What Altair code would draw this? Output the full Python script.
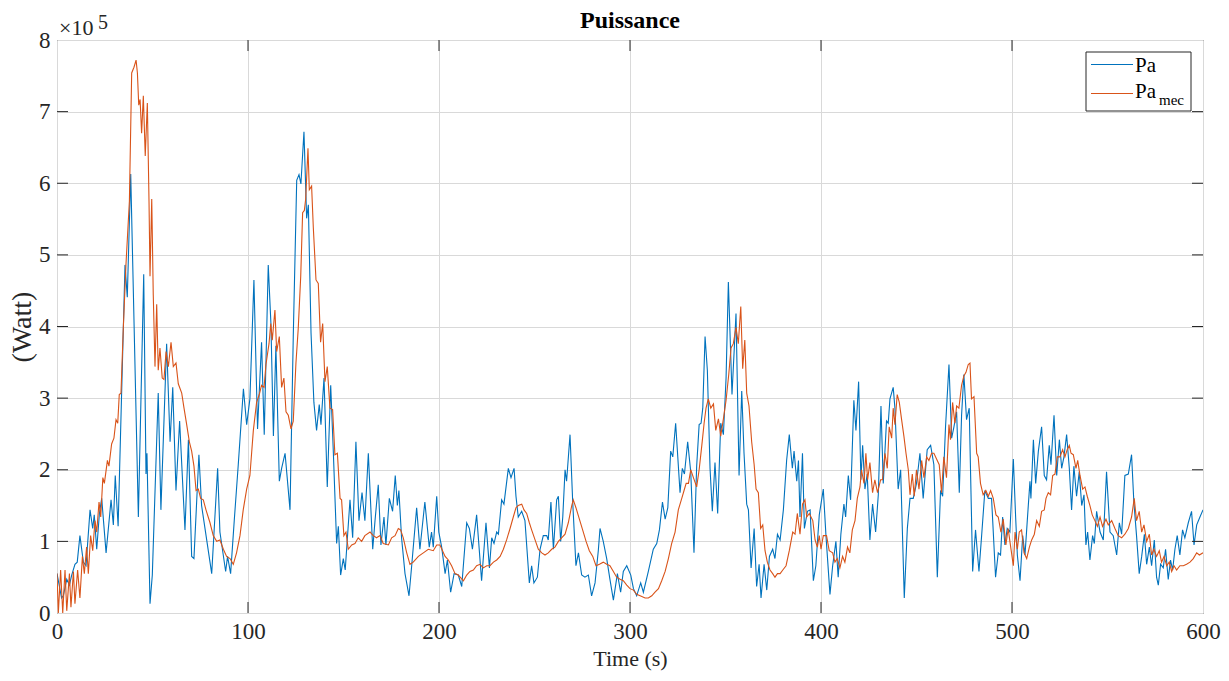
import altair as alt
import pandas as pd

# ---------------- data (values in units of 1e5 W) ----------------
# Pa (blue)
PA_T_A = [0, 2.4, 3.3, 5.1, 6.5, 7.7, 9.4, 10.6, 12.0, 13.8, 15.2, 17.3, 18.7, 19.5, 20.8, 22.2, 23.4, 25.7, 28.3, 29.5, 30.5, 32.0, 35.6, 36.8, 38.6, 42.6, 45.4, 46.6, 47.1, 48.7, 49.9, 53.0, 54.4, 57.4, 59.2, 60.6, 62.3, 64.2, 67.0, 68.8, 70.5, 71.7, 74.3, 75.7, 81.0, 84.1, 85.3, 88.3, 89.3, 90.9, 92.8, 94.9, 97.6, 99.3, 101.0]
PA_V_A = [0.55, 0.21, 0.24, 0.47, 0.39, 0.53, 0.68, 0.71, 1.08, 0.71, 0.66, 1.44, 1.18, 1.37, 0.89, 1.39, 1.60, 0.84, 1.58, 1.23, 1.92, 1.21, 4.86, 4.41, 6.13, 1.34, 4.73, 1.94, 2.23, 0.13, 0.53, 3.07, 1.44, 3.76, 2.39, 3.15, 1.71, 2.68, 1.16, 2.42, 0.79, 0.76, 2.21, 1.50, 0.55, 2.02, 1.13, 0.58, 0.79, 0.55, 1.29, 2.07, 3.13, 2.63, 2.99]

PA_T_B = [103.1, 105.0, 107.1, 108.5, 110.6, 112.0, 113.3, 114.6, 116.4, 117.6, 119.4, 122.0, 123.7, 125.5, 126.7, 127.7, 129.3, 130.7, 131.6, 133.0, 134.5, 135.9, 137.3, 138.2, 139.8, 141.5, 143.3, 144.7, 146.4, 147.3, 148.5, 149.9, 150.9, 153.4, 154.8, 156.5, 158.1, 159.7, 161.2, 163.0, 165.3, 166.5, 168.2, 169.6, 171.2, 172.2, 174.0, 175.7, 177.1, 178.2, 179.0, 180.4, 182.2, 184.3, 185.7, 188.3, 190.0, 192.6, 194.9, 196.1, 197.0, 198.8, 199.9]
PA_V_B = [4.65, 2.57, 3.78, 2.49, 4.86, 4.04, 2.47, 3.73, 1.84, 2.02, 2.23, 1.44, 3.86, 6.04, 6.12, 5.99, 6.72, 5.51, 5.70, 3.91, 2.94, 2.55, 2.91, 2.63, 3.28, 1.76, 3.18, 2.23, 0.97, 1.21, 0.53, 0.76, 0.60, 1.58, 1.05, 2.39, 1.29, 1.68, 1.29, 2.23, 0.89, 1.29, 1.79, 0.95, 1.34, 0.95, 1.60, 1.42, 1.92, 1.50, 1.71, 1.05, 0.55, 0.24, 0.66, 1.47, 0.89, 1.55, 0.92, 1.13, 0.92, 1.63, 1.13]

PA_T_C = [201.4, 203.2, 204.4, 206.1, 207.9, 210.1, 211.9, 214.5, 215.9, 217.5, 219.7, 222.3, 224.6, 226.4, 227.6, 228.8, 230.2, 231.1, 232.8, 234.0, 236.3, 237.7, 239.3, 240.3, 241.5, 243.3, 245.0, 247.3, 248.5, 249.7, 251.5, 252.9, 254.6, 256.4, 257.2, 258.6, 259.9, 261.6, 262.5, 263.7, 264.8, 266.0, 266.8, 268.6, 270.0, 271.7, 273.0, 274.7, 276.4, 278.2, 279.9, 281.7, 283.4, 284.3, 286.0, 287.8, 289.5, 291.3, 293.4, 295.1, 296.5, 298.3, 300.4]
PA_V_C = [0.92, 0.55, 0.74, 0.29, 0.55, 0.53, 0.37, 1.26, 1.18, 0.89, 1.37, 0.45, 1.26, 0.63, 1.05, 0.97, 1.13, 1.10, 1.58, 1.52, 2.02, 1.89, 2.02, 1.63, 1.34, 1.42, 1.29, 0.42, 0.66, 0.42, 0.50, 0.89, 1.08, 1.08, 1.02, 1.55, 0.89, 1.58, 1.63, 1.00, 1.34, 2.00, 1.84, 2.49, 1.55, 0.66, 0.84, 0.53, 0.50, 0.53, 0.24, 0.42, 0.87, 1.18, 1.00, 0.76, 0.47, 0.18, 0.55, 0.29, 0.58, 0.66, 0.53]

PA_T_D = [301.8, 303.5, 305.6, 307.0, 309.6, 312.2, 314.0, 315.4, 317.0, 318.4, 319.8, 321.3, 322.4, 323.9, 326.2, 327.4, 328.5, 330.2, 331.8, 333.5, 334.9, 336.2, 337.2, 338.1, 339.3, 340.5, 341.9, 343.1, 344.5, 345.9, 347.5, 348.9, 350.3, 351.5, 353.4, 355.5, 357.1, 358.5, 359.7, 361.1, 362.0, 363.4, 365.0, 366.3, 367.6, 368.6, 370.2, 371.6, 373.0, 374.7, 375.9, 377.2, 378.6, 380.3, 382.0, 383.4, 385.0, 385.9, 387.3, 388.2, 389.0, 390.3, 391.3, 392.9, 394.3, 396.0, 397.3, 399.1]
PA_V_D = [0.34, 0.24, 0.42, 0.29, 0.58, 0.89, 0.97, 1.16, 1.55, 1.31, 1.47, 2.26, 2.18, 2.65, 1.68, 2.02, 1.94, 2.39, 1.97, 0.84, 2.05, 2.63, 2.65, 2.86, 3.86, 3.39, 2.02, 1.42, 2.10, 1.39, 2.65, 2.49, 3.28, 4.62, 3.05, 4.18, 1.92, 3.10, 2.23, 1.52, 1.44, 0.63, 1.18, 0.37, 0.68, 0.21, 0.68, 0.32, 0.79, 0.89, 0.76, 1.10, 1.02, 1.44, 2.13, 2.49, 2.02, 2.26, 1.84, 2.13, 1.34, 2.23, 1.18, 1.42, 1.44, 0.45, 0.66, 1.37]

PA_T_E = [401.2, 402.6, 404.7, 406.1, 407.8, 409.0, 410.4, 412.0, 412.9, 414.3, 415.5, 417.2, 418.3, 419.7, 420.9, 421.8, 423.0, 424.2, 425.6, 427.0, 428.6, 430.0, 431.4, 432.6, 434.3, 435.2, 436.1, 437.8, 438.7, 440.4, 441.7, 443.6, 445.2, 446.6, 448.3, 450.0, 451.8, 453.5, 455.6, 457.4, 459.1, 460.9, 462.6, 463.7, 465.2, 467.0, 468.4, 469.6, 471.0, 472.4, 473.6, 474.8, 476.2, 477.6, 479.4, 480.9, 482.7, 484.1, 485.8, 487.6, 489.3, 491.4, 492.8, 494.0, 495.1, 496.3, 497.5, 498.9]
PA_V_E = [1.73, 1.08, 0.26, 0.66, 1.00, 0.50, 1.10, 1.52, 1.34, 1.92, 1.58, 2.97, 2.55, 3.23, 1.86, 2.34, 1.73, 1.94, 1.02, 1.52, 1.13, 1.65, 2.89, 1.81, 2.68, 2.65, 2.99, 3.15, 2.86, 1.73, 2.00, 0.21, 1.18, 1.60, 1.60, 1.81, 2.23, 1.60, 2.28, 2.34, 2.07, 0.50, 1.71, 1.63, 2.60, 3.47, 2.44, 2.60, 2.81, 1.68, 2.76, 3.33, 2.70, 2.86, 0.58, 1.16, 0.58, 1.08, 1.71, 1.60, 1.60, 0.50, 0.84, 0.81, 1.34, 0.95, 1.18, 1.13]

PA_T_F = [500.7, 501.9, 502.8, 504.2, 505.6, 506.8, 508.0, 509.4, 509.9, 511.2, 512.4, 513.8, 515.5, 516.9, 518.1, 519.5, 520.4, 522.0, 523.4, 524.8, 526.0, 527.2, 528.6, 530.0, 531.2, 532.4, 533.8, 535.2, 536.5, 537.7, 538.7, 539.6, 540.8, 542.2, 543.1, 544.3, 546.1, 547.8, 549.5, 551.3, 553.0, 554.8, 556.2, 557.4, 559.1, 560.9, 562.6, 563.8, 565.2, 566.6, 567.9, 569.3, 570.5, 571.9, 573.1, 574.5, 575.7, 576.6, 577.8, 579.2, 580.4, 581.8, 583.0, 584.1, 585.3, 586.5, 587.9, 589.3, 590.5, 592.3, 594.0, 595.3, 596.7, 598.4, 600.0]
PA_V_F = [2.15, 1.34, 0.81, 0.45, 1.08, 0.81, 1.29, 1.84, 1.60, 2.42, 1.81, 2.26, 2.60, 1.92, 1.86, 2.34, 2.07, 2.76, 1.92, 2.42, 2.02, 2.18, 2.49, 2.02, 1.44, 2.05, 1.63, 1.97, 1.50, 1.65, 0.95, 1.13, 0.74, 1.08, 0.97, 1.42, 1.13, 1.02, 1.97, 1.13, 1.08, 0.81, 1.26, 1.10, 1.92, 1.94, 2.21, 1.55, 1.08, 0.55, 0.79, 1.10, 0.68, 0.92, 0.66, 1.02, 0.50, 0.39, 0.68, 0.63, 0.89, 0.47, 0.74, 0.60, 0.89, 1.08, 0.81, 1.16, 1.05, 1.26, 1.42, 0.95, 1.23, 1.34, 1.44]

# Pa_mec (orange)
MEC_T_A = [0, 0.7, 1.9, 3.0, 4.2, 5.1, 6.5, 7.3, 8.6, 9.4, 10.8, 12.0, 13.3, 14.3, 15.5, 16.4, 17.6, 18.7, 19.9, 20.8, 22.0, 22.9, 24.0, 24.8, 26.4, 27.2, 28.6, 29.8, 30.9, 31.8, 32.6, 33.5, 34.7, 36.1, 37.9, 39.1, 40.3, 41.4, 42.1, 42.8, 43.5, 44.3, 45.2, 46.2, 47.3, 48.2, 48.7, 49.6, 50.4, 51.3, 52.2, 53.0, 53.9, 55.1, 56.0, 57.1, 58.3, 59.7, 60.9, 62.3, 63.5, 65.3, 66.5, 67.9, 69.3, 70.5, 71.7, 72.8, 74.0, 75.2, 76.6, 78.0, 80.1, 81.8, 83.6, 85.3, 87.1, 88.8, 90.6, 92.3, 94.0, 95.8, 97.5, 99.3, 101.0]
MEC_V_A = [0.55, 0.0, 0.60, 0.0, 0.60, 0.03, 0.55, 0.08, 0.58, 0.13, 0.60, 0.21, 0.79, 0.55, 0.92, 0.55, 1.08, 0.87, 1.29, 1.13, 1.55, 1.34, 1.89, 1.81, 2.13, 2.05, 2.36, 2.44, 2.70, 2.65, 3.05, 3.07, 3.97, 4.86, 5.75, 7.54, 7.62, 7.72, 7.54, 7.09, 7.17, 6.70, 7.22, 6.38, 7.12, 5.70, 4.70, 5.78, 4.44, 3.44, 4.31, 3.39, 3.70, 3.28, 3.26, 3.65, 3.44, 3.78, 3.44, 3.49, 3.20, 3.07, 2.86, 2.63, 2.39, 2.26, 2.05, 1.71, 1.73, 1.60, 1.58, 1.44, 1.26, 1.08, 1.00, 1.02, 0.89, 0.79, 0.76, 0.68, 0.84, 1.08, 1.44, 1.73, 1.92]

MEC_T_B = [102.8, 104.5, 105.9, 107.1, 108.4, 109.4, 111.0, 111.9, 112.7, 114.1, 115.0, 116.4, 117.6, 118.8, 119.9, 121.1, 122.5, 123.7, 125.1, 126.3, 127.6, 128.6, 129.5, 130.2, 131.4, 132.1, 133.3, 134.2, 135.6, 136.8, 138.0, 139.1, 140.3, 141.5, 142.9, 144.3, 145.5, 146.8, 148.2, 149.0, 150.2, 151.3, 152.5, 154.3, 156.0, 157.7, 159.5, 161.2, 163.9, 165.6, 167.3, 169.1, 170.8, 173.5, 175.2, 177.0, 178.7, 179.9, 181.3, 183.1, 184.8, 186.5, 189.2, 191.8, 194.4, 197.0, 198.8, 200.5]
MEC_V_B = [2.55, 2.94, 3.05, 3.18, 3.15, 3.47, 3.76, 4.04, 3.81, 4.23, 3.65, 3.86, 3.15, 3.28, 2.81, 2.76, 2.57, 2.68, 3.49, 3.97, 4.70, 5.59, 5.62, 5.78, 6.49, 5.91, 5.96, 5.38, 4.65, 4.60, 3.78, 4.04, 3.23, 3.44, 2.86, 2.84, 2.21, 2.23, 1.60, 1.58, 1.08, 1.13, 0.89, 0.95, 0.97, 1.05, 1.00, 1.08, 1.13, 1.08, 1.05, 1.08, 0.97, 0.95, 1.05, 1.08, 1.18, 1.16, 1.05, 0.84, 0.68, 0.71, 0.79, 0.84, 0.89, 0.87, 0.95, 0.95]

MEC_T_C = [203.2, 204.9, 206.6, 208.4, 210.1, 212.8, 214.5, 216.2, 218.0, 219.7, 221.5, 223.2, 225.0, 226.7, 228.5, 230.2, 232.0, 233.7, 235.4, 237.2, 238.9, 240.3, 241.5, 243.3, 244.5, 245.9, 247.3, 248.5, 250.3, 252.0, 253.8, 255.5, 257.2, 259.0, 260.7, 262.5, 264.2, 266.0, 267.7, 269.5, 270.3, 271.7, 273.5, 275.2, 277.0, 278.7, 280.5, 282.2, 284.0, 286.0, 287.8, 289.5, 291.3, 293.0, 294.8, 296.5, 298.3, 300.0]
MEC_V_C = [0.79, 0.74, 0.66, 0.55, 0.53, 0.45, 0.53, 0.58, 0.60, 0.66, 0.68, 0.63, 0.66, 0.66, 0.71, 0.74, 0.79, 0.89, 1.02, 1.18, 1.34, 1.47, 1.50, 1.52, 1.44, 1.39, 1.26, 1.16, 1.02, 0.89, 0.84, 0.81, 0.84, 0.89, 0.92, 1.00, 1.05, 1.10, 1.26, 1.50, 1.58, 1.47, 1.31, 1.16, 1.00, 0.87, 0.79, 0.66, 0.68, 0.71, 0.68, 0.66, 0.58, 0.50, 0.47, 0.45, 0.39, 0.34]

MEC_T_D = [301.8, 303.5, 305.3, 307.9, 309.6, 311.4, 313.1, 314.9, 316.6, 318.4, 320.1, 321.8, 323.6, 325.3, 327.1, 328.3, 329.4, 330.6, 331.8, 333.2, 334.9, 336.2, 337.6, 338.8, 339.8, 341.0, 342.3, 343.7, 344.9, 346.3, 347.5, 348.9, 350.3, 351.7, 352.9, 354.1, 355.5, 356.7, 358.0, 359.0, 360.1, 361.1, 362.3, 363.7, 365.0, 366.0, 367.2, 368.4, 369.5, 370.7, 371.9, 373.3, 374.7, 375.9, 377.2, 378.6, 380.0, 381.7, 383.4, 385.2, 386.4, 387.6, 389.0, 390.3, 391.6, 392.5, 393.9, 395.7, 396.9, 398.1, 399.1]
MEC_V_D = [0.32, 0.26, 0.24, 0.21, 0.21, 0.24, 0.29, 0.34, 0.45, 0.58, 0.76, 0.97, 1.13, 1.44, 1.60, 1.71, 1.81, 1.81, 2.00, 1.89, 1.76, 2.00, 2.34, 2.65, 2.86, 2.99, 2.86, 2.92, 2.55, 2.71, 2.47, 2.71, 2.97, 3.33, 3.70, 3.76, 3.99, 3.76, 4.28, 3.41, 3.81, 3.07, 2.89, 2.39, 2.07, 1.73, 1.68, 1.18, 1.23, 0.87, 0.71, 0.60, 0.55, 0.50, 0.55, 0.55, 0.60, 0.66, 0.87, 1.13, 1.10, 1.39, 1.10, 1.52, 1.58, 1.34, 1.39, 1.29, 1.02, 0.92, 1.08]

MEC_T_E = [400.0, 401.2, 402.9, 404.3, 406.1, 407.3, 408.5, 409.9, 411.3, 412.5, 413.9, 415.1, 416.4, 417.8, 419.0, 420.4, 421.2, 422.5, 423.5, 424.4, 425.6, 427.0, 428.2, 429.6, 431.2, 432.2, 433.5, 434.7, 435.7, 437.0, 437.8, 438.7, 439.9, 441.0, 442.2, 443.4, 444.5, 445.7, 446.6, 447.8, 448.8, 450.0, 451.3, 452.7, 453.9, 455.3, 456.5, 457.9, 459.1, 460.5, 461.9, 463.1, 464.3, 465.7, 467.0, 467.8, 468.9, 470.1, 471.0, 472.2, 473.6, 474.8, 475.9, 477.1, 478.0, 478.8, 480.1, 481.5, 482.3, 483.5, 484.9, 486.3, 487.6, 488.8, 490.2, 491.6, 492.8, 494.2, 495.4, 496.8, 498.0, 498.9]
MEC_V_E = [0.89, 1.08, 1.08, 0.87, 0.84, 0.71, 0.76, 0.63, 0.79, 0.71, 0.92, 0.84, 1.16, 1.29, 1.60, 1.76, 2.00, 1.81, 2.23, 1.86, 2.10, 1.68, 1.86, 1.68, 1.86, 1.86, 2.23, 2.02, 2.60, 2.44, 2.86, 2.63, 3.05, 2.94, 2.70, 2.47, 2.23, 2.00, 1.65, 1.94, 1.63, 2.00, 1.73, 2.13, 1.89, 2.18, 2.13, 2.23, 2.23, 2.15, 2.07, 1.68, 2.18, 1.89, 2.63, 2.42, 2.94, 2.65, 2.89, 2.86, 3.18, 3.31, 3.36, 3.47, 3.49, 2.99, 3.02, 2.23, 2.18, 1.81, 1.65, 1.71, 1.63, 1.71, 1.60, 1.37, 1.34, 1.13, 1.31, 0.95, 1.18, 1.00]

MEC_T_F = [500.7, 501.6, 502.8, 503.8, 505.0, 506.3, 507.7, 509.1, 510.3, 511.7, 512.9, 514.3, 515.5, 516.9, 517.8, 519.0, 520.2, 521.3, 522.5, 523.7, 525.1, 526.5, 527.7, 528.9, 530.0, 530.9, 532.1, 533.5, 534.4, 535.6, 537.0, 538.2, 539.4, 540.8, 542.0, 543.4, 544.7, 546.1, 547.4, 549.2, 550.4, 552.2, 553.9, 555.6, 557.4, 559.1, 560.9, 562.6, 564.0, 565.2, 566.6, 567.9, 569.1, 570.5, 571.9, 573.1, 574.3, 575.7, 577.1, 578.3, 579.6, 581.0, 582.3, 583.6, 584.8, 586.2, 587.9, 589.7, 591.4, 593.2, 594.9, 596.7, 598.1, 600.0]
MEC_V_F = [0.66, 1.13, 0.89, 1.13, 1.16, 0.84, 0.76, 0.92, 1.02, 1.10, 1.29, 1.21, 1.42, 1.44, 1.60, 1.68, 1.65, 1.92, 1.94, 2.18, 2.18, 2.28, 2.18, 2.28, 2.34, 2.23, 2.21, 2.02, 2.13, 1.92, 1.73, 1.76, 1.63, 1.50, 1.37, 1.29, 1.21, 1.34, 1.21, 1.31, 1.23, 1.29, 1.18, 1.08, 1.05, 1.10, 1.18, 1.34, 1.60, 1.29, 1.42, 1.13, 1.23, 1.00, 1.10, 0.81, 0.89, 0.79, 0.87, 0.71, 0.79, 0.66, 0.71, 0.58, 0.66, 0.60, 0.66, 0.66, 0.68, 0.71, 0.76, 0.84, 0.81, 0.84]

SERIES = ["Pa", "Pa_mec"]
COLORS = ["#0072BD", "#D95319"]
X_TICKS = [0, 100, 200, 300, 400, 500, 600]
Y_TICKS = [0, 1, 2, 3, 4, 5, 6, 7, 8]
TITLE = "Puissance"

# ---------------- build table ----------------
pa_t = PA_T_A + PA_T_B + PA_T_C + PA_T_D + PA_T_E + PA_T_F
pa_v = PA_V_A + PA_V_B + PA_V_C + PA_V_D + PA_V_E + PA_V_F
mec_t = MEC_T_A + MEC_T_B + MEC_T_C + MEC_T_D + MEC_T_E + MEC_T_F
mec_v = MEC_V_A + MEC_V_B + MEC_V_C + MEC_V_D + MEC_V_E + MEC_V_F
assert len(pa_t) == len(pa_v), (len(pa_t), len(pa_v))
assert len(mec_t) == len(mec_v), (len(mec_t), len(mec_v))

df = pd.concat([
    pd.DataFrame({"t": pa_t, "v": pa_v, "series": SERIES[0]}),
    pd.DataFrame({"t": mec_t, "v": mec_v, "series": SERIES[1]}),
], ignore_index=True)

W, H = 1146, 573
FONT = "Liberation Serif"
INK = "#262626"
GRID = "#d9d9d9"

x_scale = alt.Scale(domain=[0, 600], nice=False, zero=False)
y_scale = alt.Scale(domain=[0, 8], nice=False)

x_axis = alt.Axis(values=X_TICKS, title="Time (s)", grid=True, gridColor=GRID, gridWidth=1,
                  ticks=False, tickSize=0, domain=False, labelFont=FONT, labelFontSize=23,
                  labelColor=INK, labelPadding=7, labelFlush=False, titleFont=FONT,
                  titleFontSize=22, titleFontWeight="normal", titleColor=INK, titlePadding=5)
y_axis = alt.Axis(values=Y_TICKS, title="(Watt)", format="d", grid=True, gridColor=GRID,
                  gridWidth=1, ticks=False, tickSize=0, domain=False, labelFont=FONT,
                  labelFontSize=23, labelColor=INK, labelPadding=7, labelFlush=False,
                  titleFont=FONT, titleFontSize=28, titleFontWeight="normal", titleColor=INK,
                  titlePadding=2)

lines = alt.Chart(df).mark_line(strokeWidth=1.1, clip=True).encode(
    x=alt.X("t:Q", scale=x_scale, axis=x_axis),
    y=alt.Y("v:Q", scale=y_scale, axis=y_axis),
    color=alt.Color("series:N", scale=alt.Scale(domain=SERIES, range=COLORS), legend=None),
)

# inward ticks on all four sides (MATLAB box style)
yt = pd.DataFrame({"v": Y_TICKS[1:-1]})
xt = pd.DataFrame({"t": X_TICKS[1:-1]})
tick_len = 11
left_ticks = alt.Chart(yt).mark_rule(color=INK, strokeWidth=1).encode(
    y=alt.Y("v:Q", scale=y_scale), x=alt.value(0), x2=alt.value(tick_len))
right_ticks = alt.Chart(yt).mark_rule(color=INK, strokeWidth=1).encode(
    y=alt.Y("v:Q", scale=y_scale), x=alt.value(W - tick_len), x2=alt.value(W))
bottom_ticks = alt.Chart(xt).mark_rule(color=INK, strokeWidth=1).encode(
    x=alt.X("t:Q", scale=x_scale), y=alt.value(H - tick_len), y2=alt.value(H))
top_ticks = alt.Chart(xt).mark_rule(color=INK, strokeWidth=1).encode(
    x=alt.X("t:Q", scale=x_scale), y=alt.value(0), y2=alt.value(tick_len))

one = pd.DataFrame({"k": [0]})

# chart title (as a text mark so it sits exactly above the plot box)
title_txt = alt.Chart(one).mark_text(font=FONT, fontSize=24, fontWeight="bold", color="black",
                                     align="center", baseline="alphabetic").encode(
    x=alt.value(W / 2), y=alt.value(-12), text=alt.value(TITLE))

# exponent label "×10^5"
exp_base = alt.Chart(one).mark_text(font=FONT, fontSize=22, color=INK, align="left",
                                    baseline="alphabetic").encode(
    x=alt.value(2), y=alt.value(-5), text=alt.value("×10"))
exp_pow = alt.Chart(one).mark_text(font=FONT, fontSize=20, color=INK, align="left",
                                   baseline="alphabetic").encode(
    x=alt.value(41), y=alt.value(-11), text=alt.value("5"))

# legend with subscript
leg_box = alt.Chart(one).mark_rect(fill="white", stroke=INK, strokeWidth=1).encode(
    x=alt.value(1029), x2=alt.value(1134), y=alt.value(12), y2=alt.value(71))
leg_l1 = alt.Chart(one).mark_rule(color=COLORS[0], strokeWidth=1.1).encode(
    x=alt.value(1034), x2=alt.value(1076), y=alt.value(24.5))
leg_l2 = alt.Chart(one).mark_rule(color=COLORS[1], strokeWidth=1.1).encode(
    x=alt.value(1034), x2=alt.value(1076), y=alt.value(53.5))
leg_t1 = alt.Chart(one).mark_text(font=FONT, fontSize=21, color="black", align="left",
                                  baseline="alphabetic").encode(
    x=alt.value(1078), y=alt.value(32), text=alt.value("Pa"))
leg_t2 = alt.Chart(one).mark_text(font=FONT, fontSize=21, color="black", align="left",
                                  baseline="alphabetic").encode(
    x=alt.value(1078), y=alt.value(57.5), text=alt.value("Pa"))
leg_t3 = alt.Chart(one).mark_text(font=FONT, fontSize=15, color="black", align="left",
                                  baseline="alphabetic").encode(
    x=alt.value(1102), y=alt.value(65), text=alt.value("mec"))

chart = alt.layer(
    lines, left_ticks, right_ticks, bottom_ticks, top_ticks, title_txt,
    exp_base, exp_pow, leg_box, leg_l1, leg_l2, leg_t1, leg_t2, leg_t3,
).properties(
    width=W, height=H,
    padding={"left": 57, "top": 40, "right": 26, "bottom": 68},
    autosize=alt.AutoSizeParams(type="none"),
    background="white",
).configure_view(stroke=INK, strokeWidth=1)

chart.save("out.html", embed_options={"renderer": "svg", "actions": False})
